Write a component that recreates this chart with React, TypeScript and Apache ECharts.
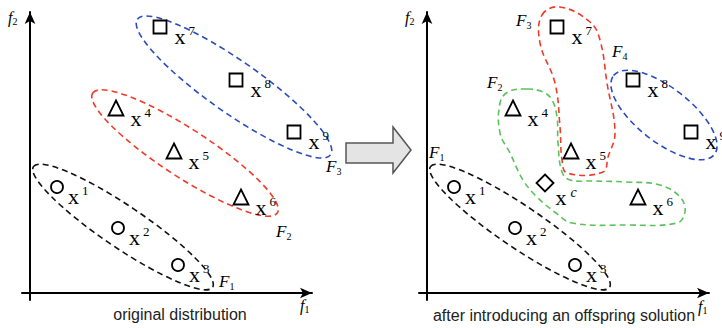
import React, { useEffect, useRef } from 'react';
import * as echarts from 'echarts';

// ---- data (units: objective values on f1 / f2) ----
const pointNames = ['1', '2', '3', '4', '5', '6', '7', '8', '9'];
const circlePts = [[27, 106], [88, 65], [148, 28]];
const trianglePts = [[86, 185], [144, 142], [211, 96]];
const squarePts = [[130, 266], [206, 213], [264, 161]];
const offspringPt = [[118, 110]];

// ellipse fronts: [cx, cy, semiMajor, semiMinor, angleDeg]
const leftFronts = [[93, 66, 108, 21, -34], [155, 140, 110, 24, -33], [204, 206, 118, 26, -35]];
const leftFrontColors = ['#111111', '#f23a2a', '#2a4cc0'];
const rightFronts = [[93, 66, 108, 21, -34], [237, 178, 64, 27, -38]];
const rightFrontColors = ['#111111', '#2a4cc0'];

const redFront = [[115, 278], [133, 286], [163, 271], [173, 253], [180, 210], [188, 160], [181, 136], [176, 121], [140, 120], [135, 133], [133, 166], [128, 210], [113, 250]];
const greenFront = [[100, 204], [81, 201], [73, 190], [73, 160], [83, 140], [96, 113], [110, 96], [129, 80], [145, 70], [200, 68], [250, 70], [258, 81], [253, 96], [233, 108], [200, 111], [166, 112], [143, 113], [135, 121], [131, 150], [130, 176], [125, 193], [116, 201]];

const captions = ['original distribution', 'after introducing an offspring solution'];

const SERIF = "'Liberation Serif', 'Times New Roman', serif";
const SANS = "'Liberation Sans', Arial, sans-serif";

const supRich = {
  x: { fontFamily: SERIF, fontSize: 22, lineHeight: 24, color: '#000' },
  s: { fontFamily: SERIF, fontSize: 13, lineHeight: 14, verticalAlign: 'top', padding: [0, 0, 0, 3], color: '#000' },
  c: { fontFamily: SERIF, fontSize: 14, lineHeight: 14, fontStyle: 'italic', verticalAlign: 'top', padding: [0, 0, 0, 4], color: '#000' },
};

const subRich = {
  F: { fontFamily: SERIF, fontSize: 17, lineHeight: 20, fontStyle: 'italic', color: '#000' },
  f: { fontFamily: SERIF, fontSize: 16, lineHeight: 18, fontStyle: 'italic', color: '#000' },
  s: { fontFamily: SERIF, fontSize: 10, lineHeight: 10, verticalAlign: 'bottom', color: '#000' },
};

function markerSeries(g: number, pts: number[][], names: string[], symbol: string, size: number, dist: number, offY: number) {
  return {
    type: 'scatter',
    xAxisIndex: g,
    yAxisIndex: g,
    symbol,
    symbolSize: size,
    silent: true,
    z: 5,
    itemStyle: { color: '#ffffff', borderColor: '#000', borderWidth: 1.8, opacity: 1 },
    data: pts.map((p, i) => ({ value: p, name: names[i] })),
    label: {
      show: true,
      position: 'right',
      distance: dist,
      offset: [0, offY],
      formatter: (p: any) => `{x|x}{s|${p.name}}`,
      rich: supRich,
    },
    emphasis: { disabled: true },
  };
}

function ellipseSeries(g: number, e: number[], color: string) {
  return {
    type: 'custom',
    xAxisIndex: g,
    yAxisIndex: g,
    silent: true,
    z: 2,
    data: [e],
    renderItem: (params: any, api: any) => {
      const c = api.coord([api.value(0), api.value(1)]);
      const s = api.size([api.value(2), api.value(3)]);
      return {
        type: 'ellipse',
        x: c[0],
        y: c[1],
        rotation: (api.value(4) * Math.PI) / 180,
        shape: { cx: 0, cy: 0, rx: s[0], ry: s[1] },
        style: { fill: 'none', stroke: color, lineWidth: 1.6, lineDash: [6, 4] },
      };
    },
  };
}

function blobSeries(g: number, pts: number[][], color: string) {
  return {
    type: 'custom',
    xAxisIndex: g,
    yAxisIndex: g,
    silent: true,
    z: 2,
    data: pts,
    renderItem: (params: any, api: any) => {
      if (params.dataIndex !== 0) return null;
      const points = pts.map((p) => api.coord(p));
      return {
        type: 'polygon',
        shape: { points, smooth: 0.4 },
        style: { fill: 'none', stroke: color, lineWidth: 1.6, lineDash: [6, 4] },
      };
    },
  };
}

function axisPair(g: number) {
  const axisLine = {
    show: true,
    onZero: true,
    symbol: ['none', 'arrow'],
    symbolSize: [8, 12],
    lineStyle: { color: '#000', width: 2 },
  };
  return {
    x: {
      type: 'value', gridIndex: g, min: -8, max: 282,
      axisLine, axisTick: { show: false }, axisLabel: { show: false }, splitLine: { show: false },
    },
    y: {
      type: 'value', gridIndex: g, min: -7, max: 281,
      axisLine, axisTick: { show: false }, axisLabel: { show: false }, splitLine: { show: false },
    },
  };
}

function subText(x: number, y: number, base: string, letter: string, sub: string) {
  return {
    type: 'text',
    x,
    y,
    silent: true,
    style: { text: `{${base}|${letter}}{s|${sub}}`, rich: subRich, verticalAlign: 'top', align: 'left' },
  };
}

export default function App() {
  const ref = useRef<HTMLDivElement>(null);
  useEffect(() => {
    if (!ref.current) return;
    const chart = echarts.init(ref.current, null, { renderer: 'svg' });
    const a0 = axisPair(0);
    const a1 = axisPair(1);
    const option: any = {
      animation: false,
      backgroundColor: '#ffffff',
      grid: [
        { left: 22, top: 12, width: 290, height: 288 },
        { left: 419, top: 12, width: 290, height: 288 },
      ],
      xAxis: [a0.x, a1.x],
      yAxis: [a0.y, a1.y],
      series: [
        ...leftFronts.map((e, i) => ellipseSeries(0, e, leftFrontColors[i])),
        ...rightFronts.map((e, i) => ellipseSeries(1, e, rightFrontColors[i])),
        blobSeries(1, redFront, '#f23a2a'),
        blobSeries(1, greenFront, '#5cc25c'),
        markerSeries(0, circlePts, pointNames.slice(0, 3), 'circle', 12, 4, 9),
        markerSeries(0, trianglePts, pointNames.slice(3, 6), 'triangle', 15, 6, 10),
        markerSeries(0, squarePts, pointNames.slice(6, 9), 'rect', 13, 7, 9),
        markerSeries(1, circlePts, pointNames.slice(0, 3), 'circle', 12, 4, 9),
        markerSeries(1, trianglePts, pointNames.slice(3, 6), 'triangle', 15, 6, 10),
        markerSeries(1, squarePts, pointNames.slice(6, 9), 'rect', 13, 7, 9),
        {
          ...markerSeries(1, offspringPt, ['c'], 'diamond', 17, 1, 14),
          label: {
            show: true, position: 'right', distance: 1, offset: [0, 14],
            formatter: () => '{x|x}{c|c}', rich: supRich,
          },
        },
      ],
      graphic: [
        {
          type: 'polygon',
          silent: true,
          shape: { points: [[346, 143], [393, 143], [393, 127], [411, 150], [393, 173], [393, 163], [346, 163]] },
          style: { fill: '#e4e4e4', stroke: '#555555', lineWidth: 1.5 },
        },
        subText(8, 8, 'f', 'f', '2'),
        subText(300, 296, 'f', 'f', '1'),
        subText(405, 8, 'f', 'f', '2'),
        subText(698, 297, 'f', 'f', '1'),
        subText(219, 271, 'F', 'F', '1'),
        subText(276, 221, 'F', 'F', '2'),
        subText(326, 156, 'F', 'F', '3'),
        subText(429, 142, 'F', 'F', '1'),
        subText(487, 72, 'F', 'F', '2'),
        subText(516, 10, 'F', 'F', '3'),
        subText(612, 41, 'F', 'F', '4'),
        {
          type: 'text', x: 180, y: 314, silent: true,
          style: { text: captions[0], font: `16px ${SANS}`, fill: '#222', align: 'center', verticalAlign: 'middle' },
        },
        {
          type: 'text', x: 564, y: 315, silent: true,
          style: { text: captions[1], font: `16px ${SANS}`, fill: '#222', align: 'center', verticalAlign: 'middle' },
        },
      ],
    };
    chart.setOption(option);
    return () => chart.dispose();
  }, []);
  return <div ref={ref} style={{ position: 'absolute', left: 0, top: 0, width: 722, height: 328 }} />;
}
